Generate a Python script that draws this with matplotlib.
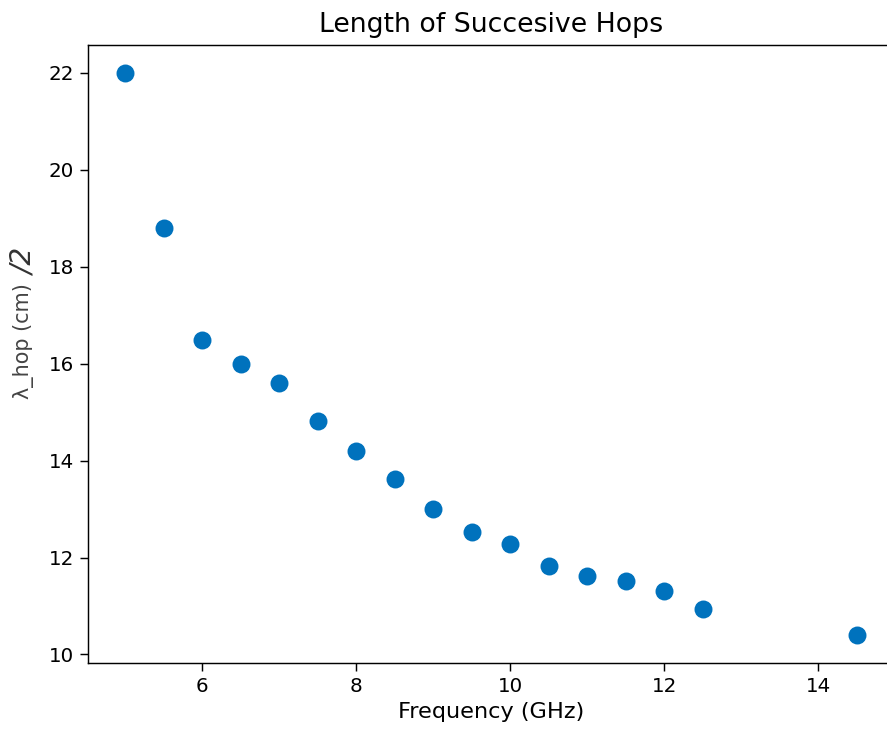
import matplotlib
matplotlib.use("Agg")
import matplotlib.pyplot as plt

freq_ghz = [5, 5.5, 6, 6.5, 7, 7.5, 8, 8.5, 9, 9.5, 10, 10.5, 11, 11.5, 12, 12.5, 14.5]
hop_len = [22.0, 18.8, 16.5, 16.0, 15.6, 14.82, 14.2, 13.62, 13.0, 12.52, 12.27, 11.82, 11.61, 11.51, 11.3, 10.93, 10.41]

title = "Length of Succesive Hops"
xlabel = "Frequency (GHz)"
ylabel = "λ_hop (cm)"
ylabel_suffix = "/2"

DPI = 130
fig = plt.figure(figsize=(887 / DPI, 736 / DPI), dpi=DPI)
ax = fig.add_axes([88.4 / 887, 1 - 662.7 / 736, 805.2 / 887, (662.7 - 44.9) / 736])

ax.scatter(freq_ghz, hop_len, s=80, color="#0072BD", zorder=3)
ax.set_title(title, fontsize=14.8, pad=7)
ax.set_xlabel(xlabel, fontsize=12.4, labelpad=3)
ax.tick_params(labelsize=11, length=4.5)
yl = ax.set_ylabel(ylabel, fontsize=11.5, color="#444444")
ax.yaxis.set_label_coords(-0.068, 0.52)
ax.annotate(ylabel_suffix, xy=(0.5, 1.0), xycoords=yl, rotation=90,
            ha="center", va="bottom", fontsize=15.5, style="italic",
            xytext=(0.8, 4), textcoords="offset points", color="#333333")

fig.savefig("out.png", dpi=DPI)
